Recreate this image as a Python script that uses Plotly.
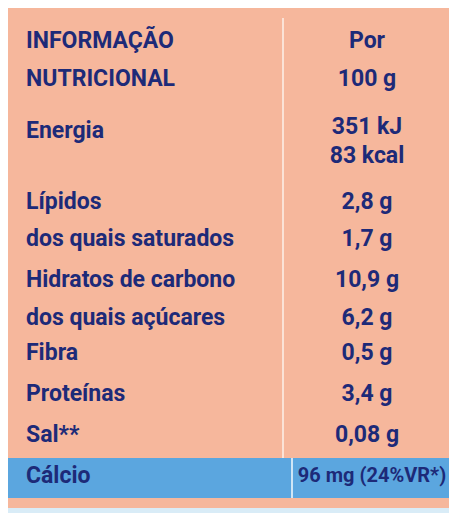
import plotly.graph_objects as go

labels = ["INFORMAÇÃO", "NUTRICIONAL", "Energia", "Lípidos", "dos quais saturados",
          "Hidratos de carbono", "dos quais açúcares", "Fibra", "Proteínas", "Sal**", "Cálcio"]
label_rows = [42, 80, 132, 203, 240, 281, 319, 354, 395, 436, 477]
values = ["Por", "100 g", "351 kJ", "83 kcal", "2,8 g", "1,7 g", "10,9 g", "6,2 g",
          "0,5 g", "3,4 g", "0,08 g", "96 mg (24%VR*)"]
value_rows = [42, 80, 128, 157, 203, 240, 281, 319, 354, 395, 436, 477]

ink = "#1d2a78"
W, H = 457, 513
O = 8  # page body offset
fig = go.Figure()
fig.add_trace(go.Scatter(x=[26]*len(labels), y=label_rows, text=labels, mode="text",
                         textposition="middle right",
                         textfont=dict(family="Roboto", size=23, color=ink, weight="bold"),
                         hoverinfo="skip"))
fig.add_trace(go.Scatter(x=[367]*(len(values)-1), y=value_rows[:-1], text=values[:-1], mode="text",
                         textposition="middle center",
                         textfont=dict(family="Roboto", size=23, color=ink, weight="bold"),
                         hoverinfo="skip"))
fig.add_trace(go.Scatter(x=[372], y=value_rows[-1:], text=values[-1:], mode="text",
                         textposition="middle center",
                         textfont=dict(family="Roboto", size=20, color=ink, weight="bold"),
                         hoverinfo="skip"))
shapes = [
    dict(type="rect", x0=0, x1=W+O, y0=0, y1=H+O, fillcolor="#d9ecf7", line_width=0, layer="below"),
    dict(type="rect", x0=6, x1=451, y0=6, y1=508, fillcolor="#f6b79c", line_width=0, layer="below"),
    dict(type="rect", x0=6, x1=451, y0=458, y1=498, fillcolor="#5ba6df", line_width=0, layer="below"),
    dict(type="line", x0=283, x1=283, y0=18, y1=458, line=dict(color="#fbe2d6", width=2), layer="below"),
    dict(type="line", x0=292, x1=292, y0=458, y1=498, line=dict(color="#cfe6f6", width=2), layer="below"),
]
fig.update_layout(width=W, height=H, margin=dict(l=0, r=0, t=0, b=0), showlegend=False,
                  shapes=shapes, paper_bgcolor="#d9ecf7", plot_bgcolor="#d9ecf7",
                  xaxis=dict(range=[O, W+O], visible=False, fixedrange=True),
                  yaxis=dict(range=[H+O, O], visible=False, fixedrange=True))
fig.write_html("out.html")
